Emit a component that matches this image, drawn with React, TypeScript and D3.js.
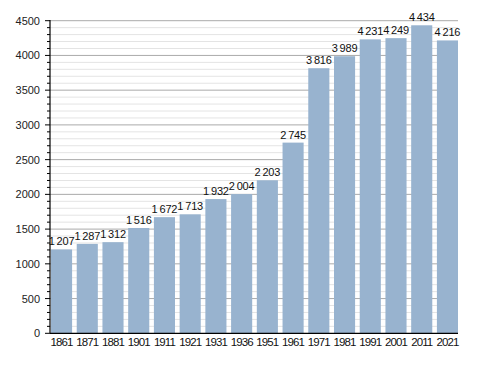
import React from "react";
import * as d3 from "d3";

const years = ["1861","1871","1881","1901","1911","1921","1931","1936","1951","1961","1971","1981","1991","2001","2011","2021"];
const population = [1207,1287,1312,1516,1672,1713,1932,2004,2203,2745,3816,3989,4231,4249,4434,4216];
const majorTicks = [0,500,1000,1500,2000,2500,3000,3500,4000,4500];

const W = 488, H = 373;
const left = 50, right = 458, top = 20.7, bottom = 333.3;

export default function App() {
  const x = d3.scaleBand<string>().domain(years).range([51, 458]).paddingInner(0.18).paddingOuter(0);
  const y = d3.scaleLinear().domain([0, 4500]).range([bottom, top]);
  const minor = d3.range(0, 4501, 100).filter(v => v % 500 !== 0);
  const fmt = (v: number) => d3.format(",")(v).replace(/,/g, "\u2009");
  const font = "'Liberation Sans', Arial, sans-serif";
  return (
    <svg width={W} height={H} style={{ position: "absolute", left: 0, top: 0, background: "#fff" }} fontFamily={font}>
      {minor.map(v => (
        <g key={"m" + v}>
          <line x1={left} x2={right} y1={y(v)} y2={y(v)} stroke="#e4e4e4" strokeWidth={1} />
          <line x1={left - 3} x2={left} y1={y(v)} y2={y(v)} stroke="#000" strokeWidth={1} />
        </g>
      ))}
      {majorTicks.map(v => (
        <g key={"M" + v}>
          {v > 0 && <line x1={left} x2={right} y1={y(v)} y2={y(v)} stroke="#aaaaaa" strokeWidth={1} />}
          <line x1={left - 5} x2={left} y1={y(v)} y2={y(v)} stroke="#000" strokeWidth={1} />
          <text x={40} y={y(v) + 4} textAnchor="end" fontSize={11} fill="#222">{v}</text>
        </g>
      ))}
      {years.map((yr, i) => (
        <g key={yr}>
          <rect x={x(yr)} y={y(population[i])} width={x.bandwidth()} height={bottom - y(population[i])} fill="#98b3cf" />
          <text x={(x(yr) as number) + x.bandwidth() / 2} y={y(population[i]) - 4} textAnchor="middle" fontSize={11} letterSpacing={-0.2} fill="#111">{fmt(population[i])}</text>
          <text x={(x(yr) as number) + x.bandwidth() / 2} y={345.5} textAnchor="middle" fontSize={11.5} letterSpacing={-0.9} fill="#111">{yr}</text>
        </g>
      ))}
      <line x1={left} x2={left} y1={20} y2={bottom} stroke="#000" strokeWidth={1.2} />
      <line x1={left} x2={right} y1={bottom} y2={bottom} stroke="#000" strokeWidth={1.2} />
    </svg>
  );
}
